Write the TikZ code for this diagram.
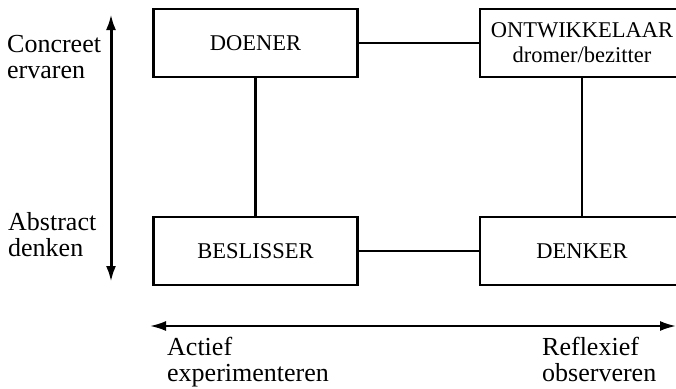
\documentclass[tikz,border=0pt]{standalone}
\usepackage{fontspec}
\setmainfont{Liberation Serif}
\usetikzlibrary{arrows.meta}
\begin{document}
\begin{tikzpicture}[x=1pt,y=-1pt,
  box/.style={draw, line width=2.2pt, minimum width=204pt, minimum height=68pt, inner sep=0pt, align=center, font=\fontsize{22.5}{25}\selectfont},
  conn/.style={line width=2.2pt},
  lbl/.style={align=left, inner sep=0pt, anchor=base west, font=\fontsize{26}{27}\selectfont},
  dbl/.style={{Latex[length=16pt,width=10pt]}-{Latex[length=16pt,width=10pt]}}
]
\clip (0,0) rectangle (676,388);
\useasboundingbox (0,0) rectangle (676,388);
\node[box] (doener) at (255.5,43) {DOENER};
\node[box] (ontw) at (582,43) {ONTWIKKELAAR\\dromer/bezitter};
\node[box] (besl) at (255.5,251) {BESLISSER};
\node[box] (denk) at (582,251) {DENKER};
\draw[conn] (doener) -- (ontw);
\draw[conn] (besl) -- (denk);
\draw[conn] (doener) -- (besl);
\draw[conn] (ontw) -- (denk);
\coordinate (vt) at (111,14);
\coordinate (vb) at (111,282);
\draw[dbl, line width=3pt] (vt) -- (vb);
\coordinate (hl) at (150,326);
\coordinate (hr) at (676,326);
\draw[dbl, line width=2pt] (hl) -- (hr);
\node[lbl] (c1) at (7,52) {Concreet};
\node[lbl] (c2) at (7,78) {ervaren};
\node[lbl] (a1) at (8,230) {Abstract};
\node[lbl] (a2) at (8,256) {denken};
\node[lbl] (x1) at (167,355) {Actief};
\node[lbl] (x2) at (167,381) {experimenteren};
\node[lbl] (r1) at (542,355) {Reflexief};
\node[lbl] (r2) at (542,381) {observeren};
\end{tikzpicture}
\end{document}
